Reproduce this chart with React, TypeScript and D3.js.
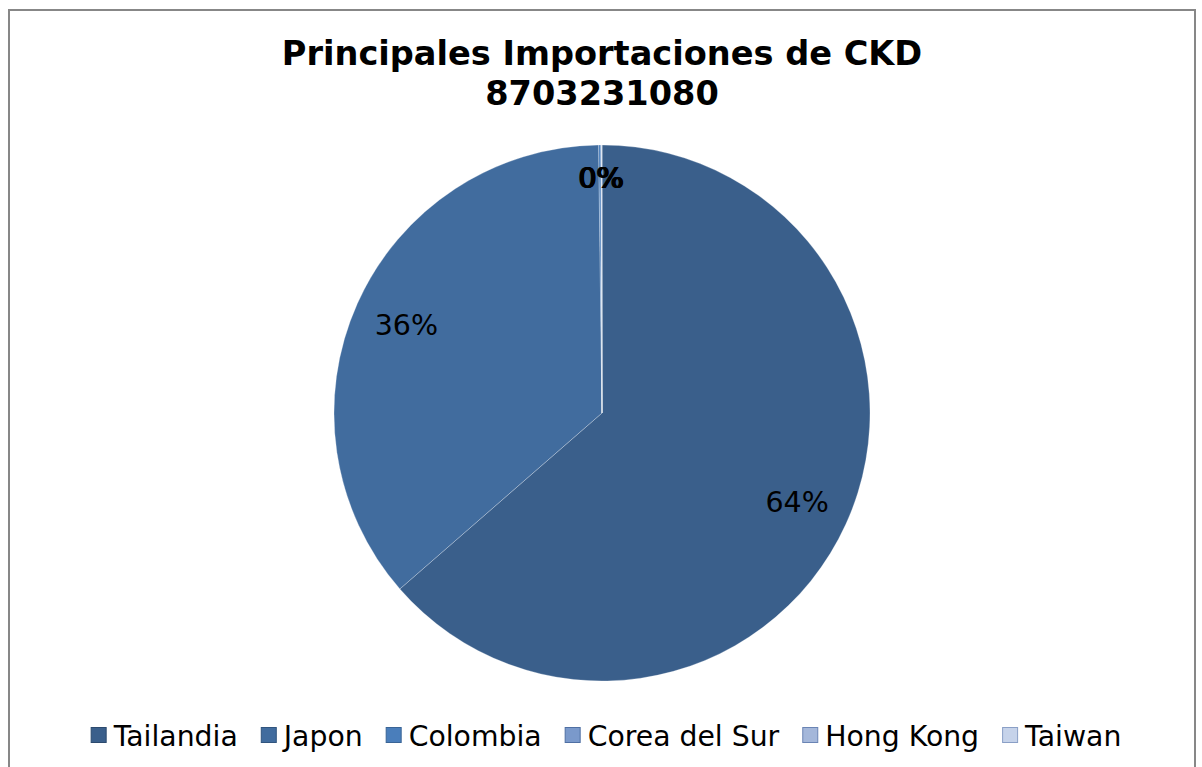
import React, { useEffect, useRef } from "react";
import * as d3 from "d3";

const categories = ["Tailandia", "Japon", "Colombia", "Corea del Sur", "Hong Kong", "Taiwan"];
const values = [63.6, 36.2, 0.13, 0.04, 0.02, 0.01];
const colors = ["#3A5F8B", "#416C9E", "#4A7EBB", "#7A99CB", "#A4B7DA", "#C6D3EA"];
const legendStroke = ["#2C4A6E", "#30547E", "#3A6496", "#4F6FA3", "#6A84B4", "#8A9FC6"];
const titleLines = ["Principales Importaciones de CKD", "8703231080"];

const W = 1202;
const H = 767;

export default function App() {
  const ref = useRef<SVGSVGElement | null>(null);

  useEffect(() => {
    const svg = d3.select(ref.current);
    svg.selectAll("*").remove();

    svg.append("rect").attr("x", 0).attr("y", 0).attr("width", W).attr("height", H).attr("fill", "#fff");
    svg.append("rect")
      .attr("x", 9).attr("y", 10).attr("width", 1186).attr("height", 820)
      .attr("fill", "none").attr("stroke", "#878787").attr("stroke-width", 2);

    const font = "'DejaVu Sans', Verdana, sans-serif";

    // Title
    svg.append("g").selectAll("text").data(titleLines).join("text")
      .attr("x", 602)
      .attr("y", (_d, i) => 65 + i * 40)
      .attr("text-anchor", "middle")
      .attr("font-family", font)
      .attr("font-weight", "bold")
      .attr("font-size", 33.6)
      .attr("fill", "#000")
      .text((d) => d);

    const cx = 602, cy = 413, r = 268;
    const total = d3.sum(values);
    const pie = d3.pie<number>().sort(null).value((d) => d);
    const arcs = pie(values);
    const arc = d3.arc<d3.PieArcDatum<number>>().innerRadius(0).outerRadius(r);

    const g = svg.append("g").attr("transform", `translate(${cx},${cy})`);
    g.selectAll("path").data(arcs).join("path")
      .attr("d", arc as any)
      .attr("fill", (_d, i) => colors[i])
      .attr("stroke", "rgba(255,255,255,0.25)")
      .attr("stroke-width", 1);

    const fmt = (v: number) => `${Math.round((v / total) * 100)}%`;
    g.selectAll("text.lbl").data(arcs).join("text")
      .attr("class", "lbl")
      .each(function (d) {
        const a = (d.startAngle + d.endAngle) / 2;
        const pct = d.value / total;
        const rho = pct < 0.05 ? r * 0.877 : r * 0.80;
        d3.select(this)
          .attr("x", rho * Math.sin(a))
          .attr("y", -rho * Math.cos(a) + 10)
      })
      .attr("text-anchor", "middle")
      .attr("font-family", font)
      .attr("font-size", 28.5)
      .attr("fill", "#000")
      .text((d) => fmt(d.value));

    // Legend
    const lg = svg.append("g");
    const sq = 15, gapST = 8, gapItem = 23, fs = 28.3;
    const items = categories.map((c, i) => {
      const t = lg.append("text")
        .attr("font-family", font)
        .attr("font-size", fs)
        .attr("fill", "#000")
        .attr("y", 746)
        .text(c);
      const w = (t.node() as SVGTextElement).getComputedTextLength();
      return { t, w, i };
    });
    const totalW = d3.sum(items, (d) => sq + gapST + d.w) + gapItem * (items.length - 1);
    let x = 606 - totalW / 2;
    items.forEach((it) => {
      lg.append("rect")
        .attr("x", x + 0.5).attr("y", 727.5)
        .attr("width", sq).attr("height", sq)
        .attr("fill", colors[it.i])
        .attr("stroke", legendStroke[it.i])
        .attr("stroke-width", 1);
      it.t.attr("x", x + sq + gapST);
      x += sq + gapST + it.w + gapItem;
    });
  }, []);

  return (
    <svg
      ref={ref}
      width={W}
      height={H}
      style={{ position: "absolute", left: 0, top: 0, display: "block" }}
    />
  );
}
